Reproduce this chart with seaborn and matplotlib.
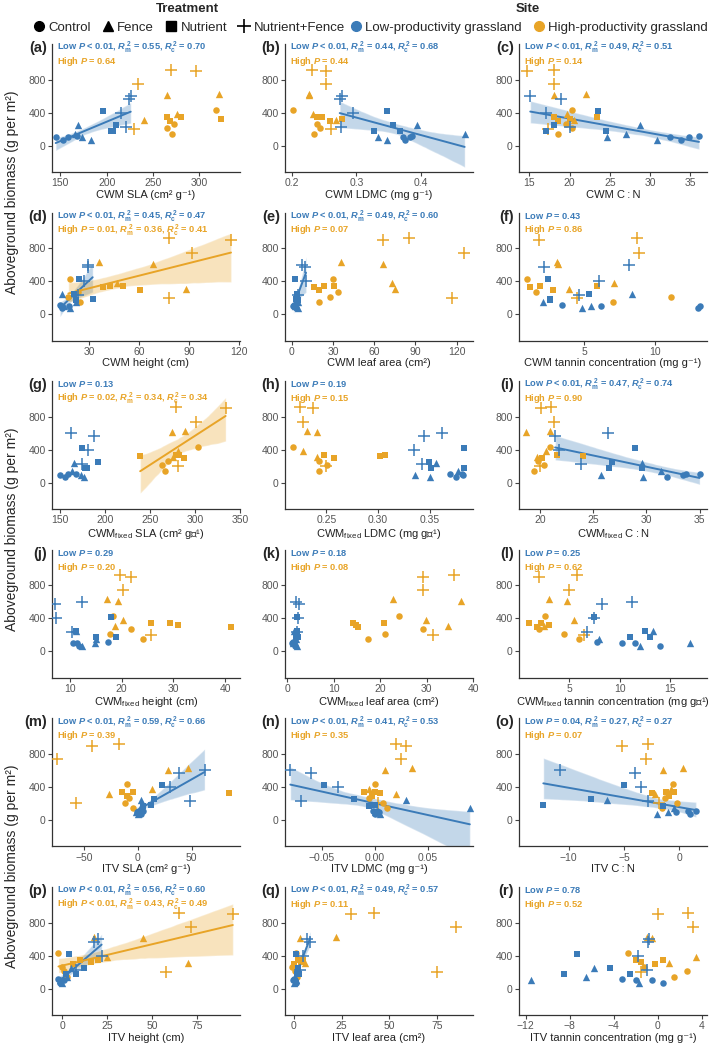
import numpy as np
import pandas as pd
import matplotlib
matplotlib.use('Agg')
import matplotlib.pyplot as plt
from matplotlib.lines import Line2D
import seaborn as sns

sns.set_theme(style='ticks')
plt.rcParams['font.family'] = ['Liberation Sans', 'DejaVu Sans']
plt.rcParams['mathtext.fontset'] = 'custom'
plt.rcParams['mathtext.it'] = 'Liberation Sans:italic:bold'
plt.rcParams['mathtext.rm'] = 'Liberation Sans:bold'
plt.rcParams['mathtext.bf'] = 'Liberation Sans:bold'

# ----- data: 16 plots per site, same order in every panel -----
treatment = ['Nutrient+Fence'] * 4 + ['Nutrient'] * 4 + ['Fence'] * 4 + ['Control'] * 4
biomass_low = [600, 570, 400, 230, 420, 250, 180, 175, 245, 145, 100, 70, 110, 105, 100, 70]
biomass_high = [920, 900, 740, 200, 340, 340, 325, 295, 630, 610, 380, 310, 430, 265, 210, 145]

# CWM
sla_low = [226, 224, 215, 221, 196, 210, 205, 207, 169, 166, 173, 183, 168, 158, 145, 153]
sla_high = [270, 297, 234, 230, 280, 265, 324, 268, 321, 265, 276, 240, 318, 273, 265, 271]
ldmc_low = [0.277, 0.274, 0.295, 0.276, 0.347, 0.356, 0.328, 0.367, 0.394, 0.468, 0.333, 0.348, 0.387, 0.373, 0.383, 0.375]
ldmc_high = [0.231, 0.253, 0.253, 0.261, 0.239, 0.246, 0.277, 0.259, 0.226, 0.227, 0.233, 0.268, 0.202, 0.239, 0.244, 0.234]
cn_low = [15.1, 18.9, 17.0, 20.1, 23.5, 18.1, 24.5, 17.0, 28.8, 27.0, 24.7, 30.9, 36.1, 34.9, 32.5, 33.9]
cn_high = [18.1, 14.7, 18.0, 17.3, 23.4, 18.0, 20.1, 18.6, 22.1, 18.1, 19.7, 20.5, 20.3, 19.6, 20.3, 18.6]
height_low = [29.4, 29.0, 27.0, 23.0, 24.0, 21.0, 32.0, 22.0, 13.8, 22.0, 15.0, 18.4, 12.4, 13.0, 18.0, 13.5]
height_high = [77.8, 115, 91.4, 77.8, 42.4, 50.4, 38.4, 60.4, 35.8, 68.0, 46.4, 88.0, 18.4, 23.4, 17.4, 24.4]
leaf_low = [7.3, 10.0, 10.4, 4.9, 2.4, 3.6, 2.9, 4.9, 3.6, 4.9, 2.4, 4.9, 1.7, 2.2, 1.2, 3.0]
leaf_high = [85.7, 66.3, 125.8, 116.6, 23.6, 30.8, 16.3, 20.2, 35.7, 66.8, 73.1, 75.3, 30.4, 34.0, 27.9, 19.9]
tannin_low = [8.17, 2.14, 6.07, 4.64, 2.43, 5.36, 2.62, 2.57, 8.38, 2.1, 5.48, 4.88, 3.45, 13.2, 6.19, 13.05]
tannin_high = [8.74, 1.79, 8.88, 4.48, 1.9, 5.95, 1.19, 2.81, 3.1, 3.17, 7.1, 3.93, 0.95, 1.62, 11.14, 7.02]

# CWM fixed
fsla_low = [162, 188, 180.5, 174, 174, 192, 178, 179.5, 165, 163, 173, 177, 168, 159, 150, 156]
fsla_high = [279, 334, 301, 281, 279, 282, 239, 288, 289, 274, 281, 276, 303, 270, 263, 267]
fldmc_low = [0.362, 0.345, 0.335, 0.343, 0.383, 0.349, 0.383, 0.351, 0.356, 0.377, 0.336, 0.350, 0.370, 0.381, 0.382, 0.376]
fldmc_high = [0.225, 0.237, 0.227, 0.250, 0.248, 0.307, 0.302, 0.257, 0.231, 0.241, 0.227, 0.241, 0.218, 0.243, 0.251, 0.243]
fcn_low = [26.4, 21.4, 21.8, 23.8, 28.9, 26.8, 29.6, 26.5, 29.6, 31.4, 25.7, 29.7, 35.0, 33.7, 33.4, 31.9]
fcn_high = [21.0, 20.1, 21.3, 20.0, 21.6, 21.6, 24.0, 20.2, 20.9, 18.7, 20.5, 19.7, 20.9, 19.8, 20.4, 19.4]
fheight_low = [12.3, 7.0, 7.3, 10.3, 17.9, 11.2, 18.9, 15.0, 11.2, 15.0, 14.8, 12.3, 17.4, 10.6, 11.3, 11.8]
fheight_high = [19.7, 21.7, 20.3, 25.6, 25.6, 29.4, 30.8, 41.2, 17.2, 19.2, 20.3, 18.7, 18.3, 21.7, 17.7, 24.2]
fleaf_low = [1.8, 2.5, 2.3, 2.0, 2.1, 2.0, 1.8, 2.2, 1.5, 1.9, 1.3, 2.0, 1.2, 1.5, 1.0, 1.6]
fleaf_high = [35.9, 29.3, 29.3, 31.3, 14.1, 20.8, 14.8, 15.2, 22.7, 37.5, 29.9, 34.6, 24.0, 29.3, 21.1, 17.4]
ftannin_low = [11.2, 8.3, 7.5, 6.8, 7.5, 12.5, 11.0, 13.0, 13.3, 8.0, 17.0, 12.0, 7.8, 10.2, 11.5, 14.0]
ftannin_high = [5.8, 2.0, 5.0, 6.5, 1.0, 2.2, 3.0, 1.8, 3.0, 4.8, 5.5, 2.5, 2.6, 2.0, 4.5, 6.0]

# ITV
isla_low = [62, 38, 30, 48, 22, 15, 12, 5, 3, 2, -2, 0, 2, 5, -1, 3]
isla_high = [-18, -43, -75, -58, -15, -5, 85, -10, 47, 28, 13, -27, -10, -8, -12, -5]
ildmc_low = [-0.08, -0.06, -0.035, -0.07, -0.048, -0.02, 0.0, -0.005, 0.03, 0.09, 0.0, 0.005, -0.002, 0.002, 0.004, 0.0]
ildmc_high = [0.02, 0.03, 0.025, 0.003, -0.01, 0.0, 0.005, -0.003, 0.035, 0.01, -0.005, 0.02, 0.0, -0.005, 0.008, 0.012]
icn_low = [-10.8, -4.0, -3.5, -2.8, -5.0, -8.0, -12.3, -1.5, -6.5, -0.5, -1.0, -2.0, 1.5, 0.8, -0.3, 1.0]
icn_high = [-2.8, -5.2, -3.0, -1.8, -0.5, -1.2, -2.5, -0.9, 0.3, -1.5, -0.8, -2.2, -0.6, -1.3, -0.2, -1.6]
iheight_low = [20, 18, 22, 8, 4, 12, 8, 2, 5, 3, -1, 0, -2, 1, 0, -1]
iheight_high = [65, 95, 72, 58, 10, 20, 16, 6, 18, 45, 25, 70, -2, 0, 1, 3]
ileaf_low = [7, 8.5, 5, 3, 1, 2, 1.5, 2.5, 2, 0.5, 1, 0, 0, -0.5, 0.5, 1]
ileaf_high = [42, 30, 85, 75, 5, 2, 3.5, 0, 22, 3, 4, 6, 1, -1, 0.5, 1.5]
itannin_low = [-0.8, -0.9, -1.8, -1.0, -7.3, -4.3, -8.5, -2.5, -5.8, -6.5, -11.5, -1.7, -3.2, -2.0, -0.5, 0.5]
itannin_high = [2.8, 0.0, 3.2, -1.5, -2.0, 0.5, -1.5, -0.2, -1.0, -0.5, 3.5, 1.0, -2.7, -1.2, 2.7, 1.5]

# statistics per panel (a..r)
low_p = ['< 0.01', '< 0.01', '< 0.01', '< 0.01', '< 0.01', '= 0.43', '= 0.13', '= 0.19', '< 0.01',
         '= 0.29', '= 0.18', '= 0.25', '< 0.01', '< 0.01', '= 0.04', '< 0.01', '< 0.01', '= 0.78']
low_rm = [0.55, 0.44, 0.49, 0.45, 0.49, None, None, None, 0.47, None, None, None, 0.59, 0.41, 0.27, 0.56, 0.49, None]
low_rc = [0.70, 0.68, 0.51, 0.47, 0.60, None, None, None, 0.74, None, None, None, 0.66, 0.53, 0.27, 0.60, 0.57, None]
high_p = ['= 0.64', '= 0.44', '= 0.14', '= 0.01', '= 0.07', '= 0.86', '= 0.02', '= 0.15', '= 0.90',
          '= 0.20', '= 0.08', '= 0.62', '= 0.39', '= 0.35', '= 0.07', '< 0.01', '= 0.11', '= 0.52']
high_rm = [None, None, None, 0.36, None, None, 0.34, None, None, None, None, None, None, None, None, 0.43, None, None]
high_rc = [None, None, None, 0.41, None, None, 0.34, None, None, None, None, None, None, None, None, 0.49, None, None]

FX = 'CWM$_{\\mathregular{fixed}}$'
panels = [
    ('a', 'CWM SLA (cm² g⁻¹)', sla_low, sla_high, [150, 200, 250, 300], (141, 344)),
    ('b', 'CWM LDMC (mg g⁻¹)', ldmc_low, ldmc_high, [0.2, 0.3, 0.4], (0.189, 0.481)),
    ('c', 'CWM C\u2009:\u2009N', cn_low, cn_high, [15, 20, 25, 30, 35], (13.7, 37.1)),
    ('d', 'CWM height (cm)', height_low, height_high, [30, 60, 90, 120], (7.6, 120.4)),
    ('e', 'CWM leaf area (cm²)', leaf_low, leaf_high, [0, 30, 60, 90, 120], (-4.9, 132)),
    ('f', 'CWM tannin concentration (mg g⁻¹)', tannin_low, tannin_high, [5, 10], (0.4, 13.7)),
    ('g', FX + ' SLA (cm² g⁻¹)', fsla_low, fsla_high, [150, 200, 250, 300, 350], (141, 344)),
    ('h', FX + ' LDMC (mg g⁻¹)', fldmc_low, fldmc_high, [0.25, 0.30, 0.35], (0.21, 0.392)),
    ('i', FX + ' C\u2009:\u2009N', fcn_low, fcn_high, [20, 25, 30, 35], (18.0, 35.7)),
    ('j', FX + ' height (cm)', fheight_low, fheight_high, [10, 20, 30, 40], (6.5, 42.9)),
    ('k', FX + ' leaf area (cm²)', fleaf_low, fleaf_high, [0, 10, 20, 30, 40], (-0.5, 40)),
    ('l', FX + ' tannin concentration (mg g⁻¹)', ftannin_low, ftannin_high, [5, 10, 15], (0, 18.7)),
    ('m', 'ITV SLA (cm² g⁻¹)', isla_low, isla_high, [-50, 0, 50], (-80, 95)),
    ('n', 'ITV LDMC (mg g⁻¹)', ildmc_low, ildmc_high, [-0.05, 0.0, 0.05], (-0.085, 0.093)),
    ('o', 'ITV C\u2009:\u2009N', icn_low, icn_high, [-10, -5, 0], (-14.5, 2.5)),
    ('p', 'ITV height (cm)', iheight_low, iheight_high, [0, 25, 50, 75], (-5.6, 99)),
    ('q', 'ITV leaf area (cm²)', ileaf_low, ileaf_high, [0, 25, 50, 75], (-4.7, 94)),
    ('r', 'ITV tannin concentration (mg g⁻¹)', itannin_low, itannin_high, [-12, -8, -4, 0, 4], (-12.6, 4.5)),
]

blue = '#3B7BB8'
orange = '#E8A427'
markers = {'Control': ('o', 22, 0), 'Fence': ('^', 28, 0), 'Nutrient': ('s', 20, 0), 'Nutrient+Fence': ('+', 70, 1.1)}

W, H = 709, 1044
fig = plt.figure(figsize=(W / 100, H / 100), dpi=100)
col_left = [52, 285, 519]
row_top = [44 + 168.6 * i for i in range(6)]
ax_w, ax_h = 188, 128


def stat_text(site, p, rm, rc):
    s = f'{site} $P$ {p}'
    if rm is not None:
        s += f', $R_\\mathrm{{m}}^{{\\,2}}$ = {rm:.2f}, $R_\\mathrm{{c}}^{{\\,2}}$ = {rc:.2f}'
    return s


for i, (lab, xlabel, xl, xh, ticks, xlim) in enumerate(panels):
    r, c = divmod(i, 3)
    ax = fig.add_axes([col_left[c] / W, 1 - (row_top[r] + ax_h) / H, ax_w / W, ax_h / H])
    df = pd.DataFrame({
        'x': list(xl) + list(xh),
        'biomass': biomass_low + biomass_high,
        'site': ['Low'] * 16 + ['High'] * 16,
        'treatment': treatment * 2,
    })
    # regression lines where the site effect was significant
    for site, col, rm in [('Low', blue, low_rm[i]), ('High', orange, high_rm[i])]:
        if rm is None:
            continue
        sub = df[df.site == site]
        sns.regplot(data=sub, x='x', y='biomass', ax=ax, scatter=False, color=col,
                    ci=95, seed=1, line_kws={'lw': 1.4, 'zorder': 2})
    for coll in ax.collections:
        coll.set_alpha(0.3)
    for (site, trt), sub in df.groupby(['site', 'treatment']):
        m, s, lw = markers[trt]
        sns.scatterplot(data=sub, x='x', y='biomass', ax=ax, marker=m, s=s,
                        color=blue if site == 'Low' else orange, linewidth=lw, zorder=3, legend=False)
    ax.set_xlim(xlim)
    ax.set_ylim(-320, 1230)
    ax.set_xticks(ticks)
    ax.set_yticks([0, 400, 800])
    ax.set_xlabel(xlabel, fontsize=8, color='#222222', labelpad=1)
    ax.set_ylabel('')
    ax.tick_params(labelsize=7.5, colors='#444444', labelcolor='#555555', length=3, width=0.8, pad=1.5)
    sns.despine(ax=ax)
    for sp in ['left', 'bottom']:
        ax.spines[sp].set_color('#333333')
        ax.spines[sp].set_linewidth(0.9)
    ax.text(0.025, 0.975, stat_text('Low', low_p[i], low_rm[i], low_rc[i]), transform=ax.transAxes,
            color=blue, fontsize=6.7, fontweight='bold', va='center', ha='left')
    ax.text(0.025, 0.865, stat_text('High', high_p[i], high_rm[i], high_rc[i]), transform=ax.transAxes,
            color=orange, fontsize=6.7, fontweight='bold', va='center', ha='left')
    fig.text((col_left[c] - 5) / W, 1 - (row_top[r] + 4) / H, f'({lab})', fontsize=10.5,
             fontweight='bold', ha='right', va='center')

# shared y labels, one per pair of rows
for k in range(3):
    yc = (row_top[2 * k] + row_top[2 * k + 1] + ax_h) / 2
    fig.text(12 / W, 1 - yc / H, 'Aboveground biomass (g per m²)', rotation=90,
             fontsize=10, ha='center', va='center')

# legends
trt_handles = [
    Line2D([], [], marker='o', color='black', ls='', markersize=7),
    Line2D([], [], marker='^', color='black', ls='', markersize=7.5),
    Line2D([], [], marker='s', color='black', ls='', markersize=6.5),
    Line2D([], [], marker='+', color='black', ls='', markersize=10, markeredgewidth=1.2),
]
leg1 = fig.legend(trt_handles, ['Control', 'Fence', 'Nutrient', 'Nutrient+Fence'], ncol=4,
                  loc='upper center', bbox_to_anchor=(0.265, 1.006), frameon=False, fontsize=9.5,
                  title='Treatment', title_fontproperties={'weight': 'bold', 'size': 9.5},
                  handletextpad=0.1, columnspacing=0.7, handlelength=1.2, borderpad=0.2)
site_handles = [
    Line2D([], [], marker='o', color=blue, ls='', markersize=7),
    Line2D([], [], marker='o', color=orange, ls='', markersize=7),
]
leg2 = fig.legend(site_handles, ['Low-productivity grassland', 'High-productivity grassland'], ncol=2,
                  loc='upper center', bbox_to_anchor=(0.745, 1.006), frameon=False, fontsize=9.5,
                  title='Site', title_fontproperties={'weight': 'bold', 'size': 9.5},
                  handletextpad=0.1, columnspacing=0.7, handlelength=1.2, borderpad=0.2)

fig.savefig('out.png', dpi=100)
